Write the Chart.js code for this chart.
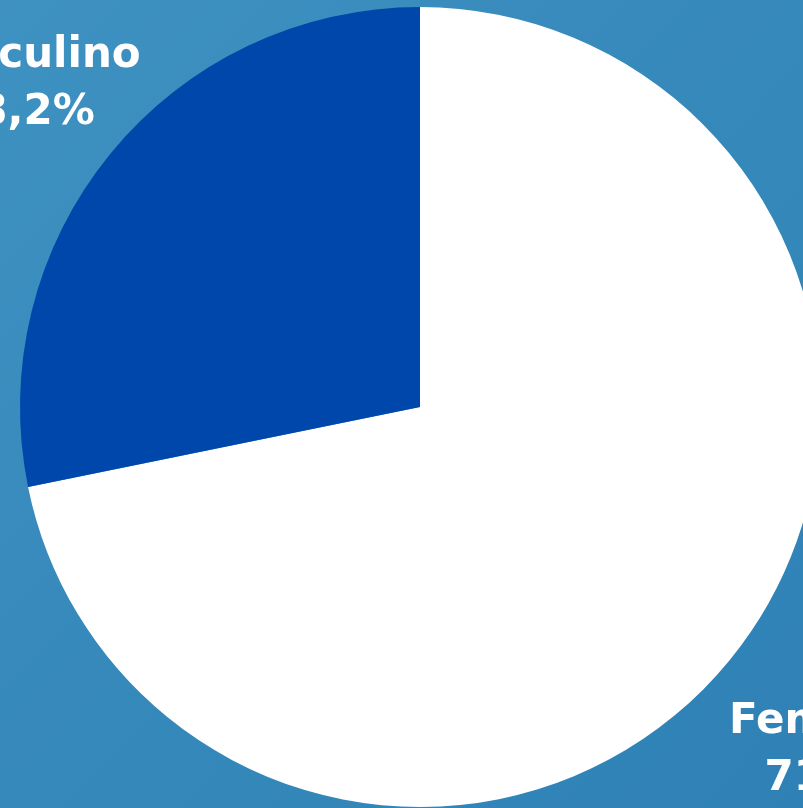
<!DOCTYPE html>
<html>
<head>
    <meta charset="utf-8">
    <title>Distribuição por sexo</title>
    <script src="https://cdn.jsdelivr.net/npm/chart.js"></script>
    <style>
        html, body {
            margin: 0;
            padding: 0;
            width: 803px;
            height: 808px;
            overflow: hidden;
        }
        body {
            position: relative;
            background: linear-gradient(135deg, #3e92c1 0%, #388bbc 35%, #3387b9 65%, #2f81b5 100%);
        }
        .chart-container {
            position: absolute;
            left: -180px;
            top: 7px;
            width: 1200px;
            height: 800px;
        }
    </style>
</head>
<body>
    <div class="chart-container">
        <canvas id="genderChart"></canvas>
    </div>

    <script>
        // dados do gráfico
        const labels = ['Feminino', 'Masculino'];
        const values = [71.8, 28.2];
        const valueLabels = ['71,8%', '28,2%'];
        const colors = ['#ffffff', '#0047ab'];

        // rótulos fora das fatias (nome + percentual)
        const outerLabels = {
            id: 'outerLabels',
            afterDraw(chart, args, opts) {
                const ctx = chart.ctx;
                const meta = chart.getDatasetMeta(0);
                ctx.save();
                ctx.font = 'bold 42px "DejaVu Sans", sans-serif';
                ctx.fillStyle = '#ffffff';
                ctx.textAlign = 'center';
                ctx.textBaseline = 'alphabetic';
                meta.data.forEach((arc, i) => {
                    const p = arc.getProps(['x', 'y', 'startAngle', 'endAngle', 'outerRadius'], true);
                    const mid = (p.startAngle + p.endAngle) / 2;
                    const r = p.outerRadius + opts.offsets[i];
                    const x = p.x + Math.cos(mid) * r;
                    const y = p.y + Math.sin(mid) * r;
                    ctx.fillText(labels[i], x, y - 15);
                    ctx.fillText(valueLabels[i], x, y + 42);
                });
                ctx.restore();
            }
        };

        const ctx = document.getElementById('genderChart').getContext('2d');
        new Chart(ctx, {
            type: 'pie',
            data: {
                labels: labels,
                datasets: [{
                    data: values,
                    backgroundColor: colors,
                    borderWidth: 0
                }]
            },
            options: {
                responsive: true,
                maintainAspectRatio: false,
                animation: false,
                layout: { padding: 0 },
                plugins: {
                    legend: { display: false },
                    tooltip: { enabled: false },
                    outerLabels: { offsets: [139, 114] }
                }
            },
            plugins: [outerLabels]
        });
    </script>
</body>
</html>
